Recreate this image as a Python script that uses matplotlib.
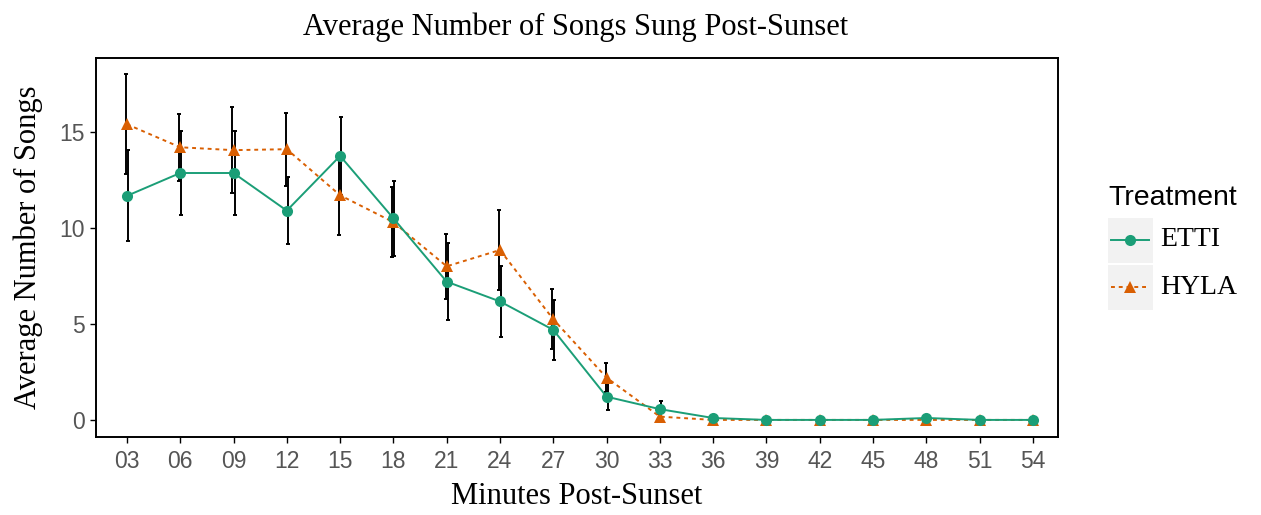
import matplotlib
matplotlib.use("Agg")
import matplotlib.pyplot as plt
from matplotlib.lines import Line2D
from matplotlib.patches import Rectangle
import numpy as np

minutes = ["03", "06", "09", "12", "15", "18", "21", "24", "27", "30", "33", "36", "39", "42", "45", "48", "51", "54"]
etti_mean = [11.67, 12.86, 12.86, 10.9, 13.75, 10.5, 7.2, 6.17, 4.69, 1.21, 0.56, 0.1, 0.0, 0.0, 0.0, 0.1, 0.0, 0.0]
etti_err = [2.37, 2.2, 2.2, 1.75, 2.05, 1.94, 2.0, 1.85, 1.56, 0.7, 0.4, 0.08, 0.0, 0.0, 0.0, 0.08, 0.0, 0.0]
hyla_mean = [15.4, 14.2, 14.05, 14.1, 11.7, 10.3, 8.0, 8.85, 5.24, 2.2, 0.17, 0.0, 0.0, 0.0, 0.0, 0.0, 0.0, 0.0]
hyla_err = [2.6, 1.74, 2.25, 1.9, 2.08, 1.84, 1.68, 2.07, 1.56, 0.75, 0.15, 0.0, 0.0, 0.0, 0.0, 0.0, 0.0, 0.0]

green = "#1B9E77"
orange = "#D95F02"

fig = plt.figure(figsize=(12.61, 5.15), dpi=100)
ax = fig.add_axes([96/1261, 1-437/515, (1058-96)/1261, (437-58)/515])

x = np.arange(len(minutes))

ax.errorbar(x + 0.02, etti_mean, yerr=etti_err, fmt="none", ecolor="black",
            elinewidth=1.4, capsize=1.5, capthick=1.4, zorder=2)
ax.errorbar(x - 0.02, hyla_mean, yerr=hyla_err, fmt="none", ecolor="black",
            elinewidth=1.4, capsize=1.5, capthick=1.4, zorder=2)

ax.plot(x, hyla_mean, color=orange, lw=1.4, linestyle=(0, (2, 2)),
        marker="^", markersize=8, markeredgewidth=0, zorder=3)
ax.plot(x, etti_mean, color=green, lw=1.4, linestyle="-",
        marker="o", markersize=8, markeredgewidth=0, zorder=4)

ax.set_xlim(-0.58, len(minutes) - 1 + 0.47)
ax.set_ylim(-0.89, 18.85)
ax.set_xticks(x)
ax.set_xticklabels(minutes)
ax.set_yticks([0, 5, 10, 15])

for s in ax.spines.values():
    s.set_color("black")
    s.set_linewidth(1.4)

ax.tick_params(axis="both", colors="black", length=4, width=1.0,
               labelcolor="#555555", labelsize=16.5)
for lab in ax.get_xticklabels() + ax.get_yticklabels():
    lab.set_family("Liberation Sans")
ax.tick_params(axis="x", pad=5)
ax.tick_params(axis="y", pad=4)

fig.text((302+850)/2/1261, 1-27/515, "Average Number of Songs Sung Post-Sunset",
         ha="center", va="center", family="Liberation Serif", fontsize=22)
fig.text((451+703)/2/1261, 1-497/515, "Minutes Post-Sunset",
         ha="center", va="center", family="Liberation Serif", fontsize=22)
fig.text(28/1261, 1-247/515, "Average Number of Songs", rotation=90,
         ha="center", va="center", family="Liberation Serif", fontsize=22)

# legend
fig.text(1108/1261, 1-198/515, "Treatment", ha="left", va="center",
         family="Liberation Sans", fontsize=20.5)
keys = [(218, green, "-", "o", "ETTI"), (265, orange, (0, (2, 2)), "^", "HYLA")]
for top, col, ls, mk, lab in keys:
    fig.add_artist(Rectangle((1108/1261, 1-(top+45)/515), 45/1261, 45/515,
                             transform=fig.transFigure, facecolor="#F2F2F2",
                             edgecolor="none"))
    yc = 1-(top+22)/515
    fig.add_artist(Line2D([1111/1261, 1149/1261], [yc, yc], transform=fig.transFigure,
                          color=col, lw=1.4, linestyle=ls))
    fig.add_artist(Line2D([1130/1261], [yc], transform=fig.transFigure,
                          color=col, marker=mk, markersize=8, markeredgewidth=0))
    fig.text(1160/1261, yc, lab, ha="left", va="center",
             family="Liberation Serif", fontsize=20)

fig.savefig("out.png", dpi=100, facecolor="white")
